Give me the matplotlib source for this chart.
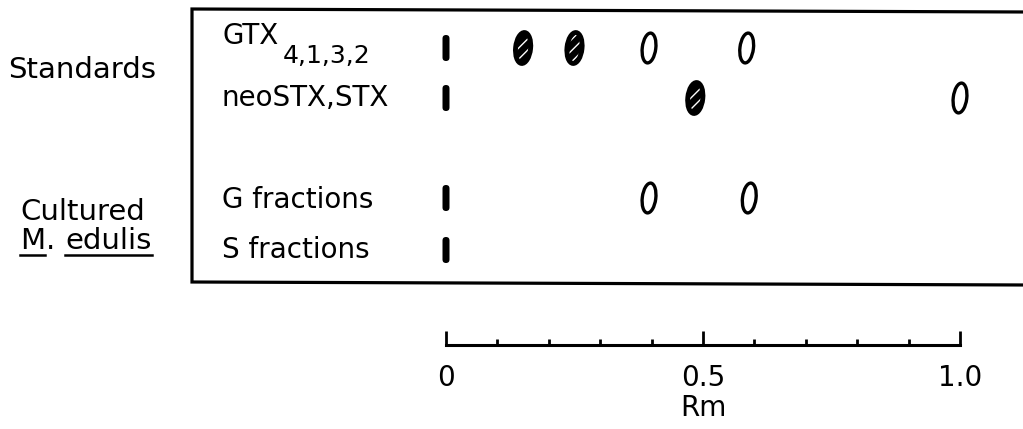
import matplotlib
matplotlib.use('Agg')
import matplotlib.pyplot as plt
import matplotlib.transforms as mtransforms
from matplotlib.patches import Ellipse, FancyBboxPatch

# значения Rm для пятен на каждой дорожке
origin_rm = 0.0
gtx_hatched = [0.15, 0.25]
gtx_open = [0.395, 0.585]
stx_hatched = [0.485]
stx_open = [1.0]
g_open = [0.395, 0.59]

row_names = ['GTX', 'neoSTX,STX', 'G fractions', 'S fractions']
gtx_sub = '4,1,3,2'
group_names = ['Standards', 'Cultured', 'M', 'edulis']

tick_major = [0, 0.5, 1.0]
tick_labels = ['0', '0.5', '1.0']
tick_minor = [0.1, 0.2, 0.3, 0.4, 0.6, 0.7, 0.8, 0.9]

W, H = 1023, 429
row_y = [48, 98, 198, 250]     # центры дорожек, пиксели сверху

fig = plt.figure(figsize=(W / 100, H / 100), dpi=100)
fig.patch.set_facecolor('white')

# подложка в пикселях: рамка и подписи
ov = fig.add_axes([0, 0, 1, 1])
ov.set_xlim(0, W)
ov.set_ylim(H, 0)
ov.axis('off')

ov.plot([W + 5, 192, 192, W + 5], [12, 9, 282, 285], color='black', lw=2.3,
        solid_joinstyle='miter', clip_on=False)

fs = 20
ov.text(222, 36, row_names[0], fontsize=fs, va='center', ha='left')
ov.text(283, 56, gtx_sub, fontsize=18, va='center', ha='left')
ov.text(222, 98, row_names[1], fontsize=fs, va='center', ha='left')
ov.text(222, 200, row_names[2], fontsize=fs, va='center', ha='left')
ov.text(222, 250, row_names[3], fontsize=fs, va='center', ha='left')

ov.text(8, 70, group_names[0], fontsize=21, va='center', ha='left')
ov.text(20, 212, group_names[1], fontsize=21, va='center', ha='left')
tM = ov.text(20, 241, group_names[2], fontsize=21, va='center', ha='left')
fig.canvas.draw()
inv = ov.transData.inverted()


def extent(t):
    bb = t.get_window_extent()
    (x0, y0), (x1, y1) = inv.transform([[bb.x0, bb.y0], [bb.x1, bb.y1]])
    return x0, x1


m0, m1 = extent(tM)
tdot = ov.text(m1 + 1, 241, '.', fontsize=21, va='center', ha='left')
d0, d1 = extent(tdot)
tE = ov.text(d1 + 10, 241, group_names[3], fontsize=21, va='center', ha='left')
e0, e1 = extent(tE)
uy = 255
ov.plot([m0, m1], [uy, uy], color='black', lw=1.8)
ov.plot([e0, e1], [uy, uy], color='black', lw=1.8)

# ось Rm: нижний край осей = шкала
ybar = 345
ax = fig.add_axes([446 / W, (H - ybar) / H, 514 / W, ybar / H])
ax.set_xlim(0, 1)
ax.set_ylim(ybar, 0)
ax.patch.set_alpha(0)
for s in ['top', 'left', 'right']:
    ax.spines[s].set_visible(False)
ax.spines['bottom'].set_linewidth(2.2)
ax.set_yticks([])
ax.set_xticks(tick_major, labels=tick_labels)
ax.set_xticks(tick_minor, minor=True)
ax.tick_params(axis='x', which='major', direction='in', length=10, width=2,
               labelsize=20, pad=14)
ax.tick_params(axis='x', which='minor', direction='in', length=4.5, width=2)
ax.set_xlabel('Rm', fontsize=20, labelpad=1)


def at(x, y):
    return fig.dpi_scale_trans + mtransforms.ScaledTranslation(x, y, ax.transData)


def bar(x, y):
    p = FancyBboxPatch((-0.035, -0.13), 0.07, 0.26,
                       boxstyle='round,pad=0,rounding_size=0.035',
                       facecolor='black', edgecolor='black', lw=0,
                       transform=at(x, y), clip_on=False)
    ax.add_patch(p)


def open_spot(x, y):
    e = Ellipse((0, 0), 0.135, 0.30, angle=-7, facecolor='white',
                edgecolor='black', lw=2.4, transform=at(x, y), clip_on=False)
    ax.add_patch(e)


def hatched_spot(x, y):
    e = Ellipse((0, 0), 0.15, 0.31, angle=-6, facecolor='black',
                edgecolor='white', hatch='///', lw=0, transform=at(x, y),
                clip_on=False)
    ax.add_patch(e)
    e2 = Ellipse((0, 0), 0.15, 0.31, angle=-6, facecolor='none',
                 edgecolor='black', lw=3.5, transform=at(x, y), clip_on=False)
    ax.add_patch(e2)


for y in row_y:
    bar(origin_rm, y)
for x in gtx_hatched:
    hatched_spot(x, row_y[0])
for x in gtx_open:
    open_spot(x, row_y[0])
for x in stx_hatched:
    hatched_spot(x, row_y[1])
for x in stx_open:
    open_spot(x, row_y[1])
for x in g_open:
    open_spot(x, row_y[2])

fig.savefig('out.png', dpi=100, facecolor='white')
